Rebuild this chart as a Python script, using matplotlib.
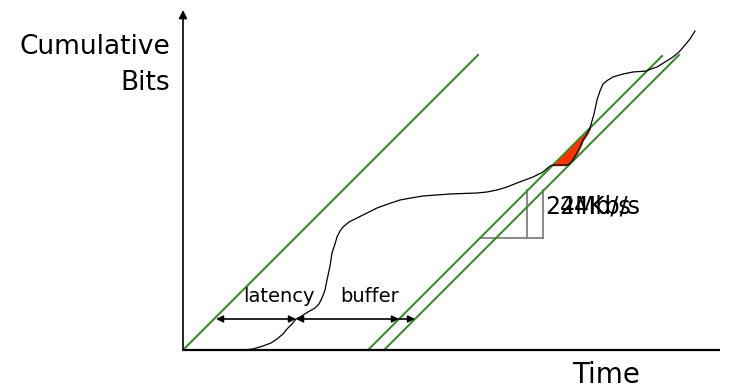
import matplotlib
matplotlib.use('Agg')
from matplotlib import pyplot as plt
import numpy as np

# cumulative bits received (the wiggly curve), time vs bits
arrival_t = [60, 70, 80, 88, 94, 100, 104, 109, 113, 117, 125, 132, 136, 139, 142, 144,
             147, 149, 152, 154, 157, 160, 166, 174, 184, 194, 205, 217,
             228, 240, 253, 267, 280, 294, 304, 314, 324, 334, 342, 350, 360, 367, 370,
             377, 385, 390, 394, 397, 400, 404, 407, 411, 414, 417, 420, 425,
             430, 440, 450, 457, 463, 468, 474, 482, 490, 496, 502, 507, 512]
arrival_b = [0, 1, 4, 7, 11, 16, 21, 26, 31, 33, 38, 42, 46, 52, 60, 70,
             84, 97, 106, 113, 119, 123, 128, 132, 137, 142, 146, 150,
             152, 154, 155, 156, 156.5, 157, 158, 160, 163, 167, 170, 173, 178, 184, 185,
             185, 185, 190, 197, 203, 210, 216, 222, 236, 250, 259, 266, 270,
             273, 276, 278, 278.5, 279, 281, 283, 288, 293, 298, 305, 311, 319]

# constant rate playout lines: start time, end time (slope 1)
playout_start = [0, 185, 201]
playout_end = [295, 479, 496]

latency = (33, 113)
buffer = (113, 216, 232)
arrow_b = 31

rate_labels = ['24Mb/s', '24Kb/s']
rate_t = [362, 376]
rate_b = 143

tri_h = (297, 360, 112)
tri_v = (344, 360)
tri_top = 160

green = '#3d8b2f'

fig = plt.figure(figsize=(7.33, 3.91), dpi=100)
ax = fig.add_axes([0, 0, 1, 1])
ax.set_xlim(-183, 550)
ax.set_ylim(-41, 350)
ax.axis('off')

# axes
ax.plot([0, 537], [0, 0], color='black', lw=1.6, solid_capstyle='butt', zorder=5)
ax.annotate('', xy=(0, 340), xytext=(0, 0),
            arrowprops=dict(arrowstyle='-|>', color='black', lw=1.2,
                            mutation_scale=12, shrinkA=0, shrinkB=0), zorder=5)

# playout lines
for s, e in zip(playout_start, playout_end):
    ax.plot([s, e], [0, e - s], color=green, lw=1.5, zorder=3)

# arrival curve
ax.plot(arrival_t, arrival_b, color='black', lw=0.9, zorder=4)

# red area where curve falls below second playout line
t = np.array(arrival_t)
b = np.array(arrival_b)
m = (t >= 370) & (t <= 407)
ax.fill_between(t[m], b[m], t[m] - playout_start[1], color='#ff3300', zorder=2)

# slope triangle
ax.plot([tri_h[0], tri_h[1]], [tri_h[2], tri_h[2]], color='#808080', lw=1.3, zorder=1)
for x in tri_v:
    ax.plot([x, x], [tri_h[2], tri_top], color='#808080', lw=1.3, zorder=1)

# latency / buffer arrows
ap = dict(arrowstyle='<|-|>', color='black', lw=1.2, mutation_scale=10,
          shrinkA=0, shrinkB=0)
ax.annotate('', xy=(latency[1], arrow_b), xytext=(latency[0], arrow_b), arrowprops=ap)
ax.annotate('', xy=(buffer[1], arrow_b), xytext=(buffer[0], arrow_b), arrowprops=ap)
ax.annotate('', xy=(buffer[2], arrow_b), xytext=(buffer[1], arrow_b),
            arrowprops=dict(arrowstyle='-|>', color='black', lw=1.2,
                            mutation_scale=10, shrinkA=0, shrinkB=0))

ax.text(96, 53, 'latency', fontsize=14, ha='center', va='center')
ax.text(187, 53, 'buffer', fontsize=14, ha='center', va='center')

# the two rate labels sit on top of each other in the original slide
for lab, x in zip(rate_labels, rate_t):
    ax.text(x, rate_b, lab, fontsize=17, ha='left', va='center')

ax.text(-13, 303, 'Cumulative', fontsize=19, ha='right', va='center')
ax.text(-13, 267, 'Bits', fontsize=19, ha='right', va='center')
ax.text(423, -25, 'Time', fontsize=20, ha='center', va='center')

fig.savefig('out.png', dpi=100)
